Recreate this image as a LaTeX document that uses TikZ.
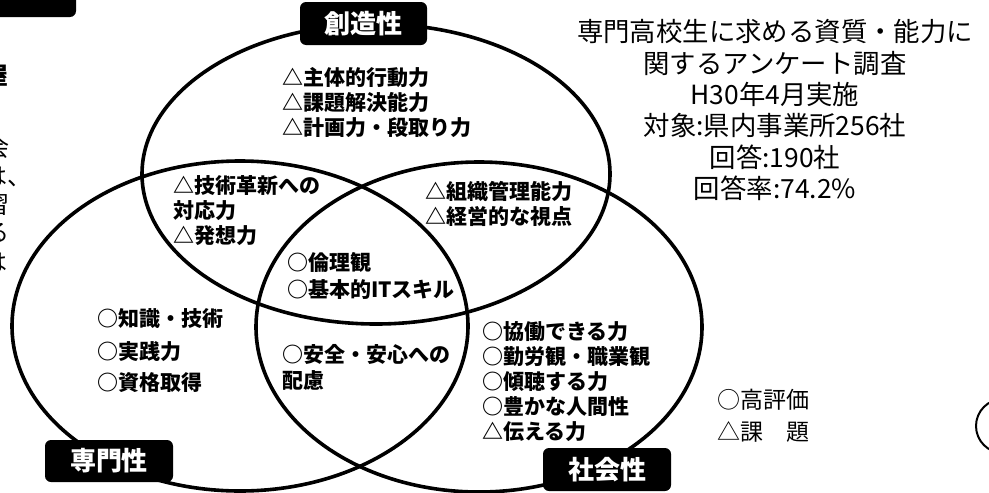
\documentclass[tikz,border=0pt]{standalone}
\usepackage{fontspec}
\newfontfamily\jp{Noto Sans CJK JP}
\begin{document}
\begin{tikzpicture}[x=1pt,y=-1pt]
\tikzset{
  ring/.style={line width=3.6pt, draw=black},
  tag/.style={fill=black, rounded corners=6pt, inner sep=0pt, text=white,
              font=\jp\bfseries\fontsize{26}{30}\selectfont},
  item/.style={font=\jp\bfseries\fontsize{21}{25}\selectfont, inner sep=0pt, anchor=base west},
  info/.style={font=\jp\fontsize{26.4}{31}\selectfont, inner sep=0pt, anchor=base},
  legend/.style={font=\jp\fontsize{23}{28}\selectfont, inner sep=0pt, anchor=base west},
  edge/.style={font=\jp\fontsize{24}{28}\selectfont, inner sep=0pt, anchor=base east},
}
\useasboundingbox (0,0) rectangle (989,493);
\clip (0,0) rectangle (989,493);

% three circles of the Venn diagram
\draw[ring] (376,174) ellipse [x radius=234pt, y radius=150pt];
\draw[ring] (240,326) ellipse [x radius=228pt, y radius=165pt];
\draw[ring] (479,327) ellipse [x radius=223pt, y radius=165pt];

% labels of the circles
\node[tag, minimum width=127pt, minimum height=43pt] (creat) at (363.5,23.5) {創造性};
\node[tag, minimum width=128pt, minimum height=42pt] (spec) at (109,461) {専門性};
\node[tag, minimum width=128pt, minimum height=43pt] (soc) at (607,469.5) {社会性};

% creativity only
\node[item] (c1) at (282,85) {△主体的行動力};
\node[item] (c2) at (282,110) {△課題解決能力};
\node[item] (c3) at (282,135) {△計画力・段取り力};

% creativity & speciality
\node[item] (cs1) at (173,193) {△技術革新への};
\node[item] (cs2) at (173,218) {対応力};
\node[item] (cs3) at (173,243) {△発想力};

% creativity & sociality
\node[item] (cso1) at (425,199) {△組織管理能力};
\node[item] (cso2) at (425,224) {△経営的な視点};

% all three
\node[item] (a1) at (287,270) {○倫理観};
\node[item] (a2) at (287,297) {○基本的ITスキル};

% speciality only
\node[item] (s1) at (97,326) {○知識・技術};
\node[item] (s2) at (97,359) {○実践力};
\node[item] (s3) at (97,390) {○資格取得};

% speciality & sociality
\node[item] (ss1) at (282,362) {○安全・安心への};
\node[item] (ss2) at (282,388) {配慮};

% sociality only
\node[item] (o1) at (482,339) {○協働できる力};
\node[item] (o2) at (482,364) {○勤労観・職業観};
\node[item] (o3) at (482,389) {○傾聴する力};
\node[item] (o4) at (482,414) {○豊かな人間性};
\node[item] (o5) at (482,439) {△伝える力};

% survey information
\node[info] (i1) at (775,41) {専門高校生に求める資質・能力に};
\node[info] (i2) at (775,73) {関するアンケート調査};
\node[info] (i3) at (775,104) {H30年4月実施};
\node[info] (i4) at (775,135) {対象:県内事業所256社};
\node[info] (i5) at (775,167) {回答:190社};
\node[info] (i6) at (775,198) {回答率:74.2\%};

% legend
\node[legend] (l1) at (717,408) {○高評価};
\node[legend] (l2) at (717,440) {△課　題};

% cut-off fragments at the page edges
\fill[rounded corners=6pt] (-30,-20) rectangle (76,17);
\node[edge, font=\jp\bfseries\fontsize{24}{28}\selectfont] (f1) at (9,84) {屋};
\node[edge] (f2) at (10,156) {会};
\node[edge] (f3) at (32,185) {は、};
\node[edge] (f4) at (10,213) {習};
\node[edge] (f5) at (10,241) {る};
\node[edge] (f6) at (8,271) {は};
\draw[line width=2pt] (1003,426) circle [radius=27pt];
\end{tikzpicture}
\end{document}
